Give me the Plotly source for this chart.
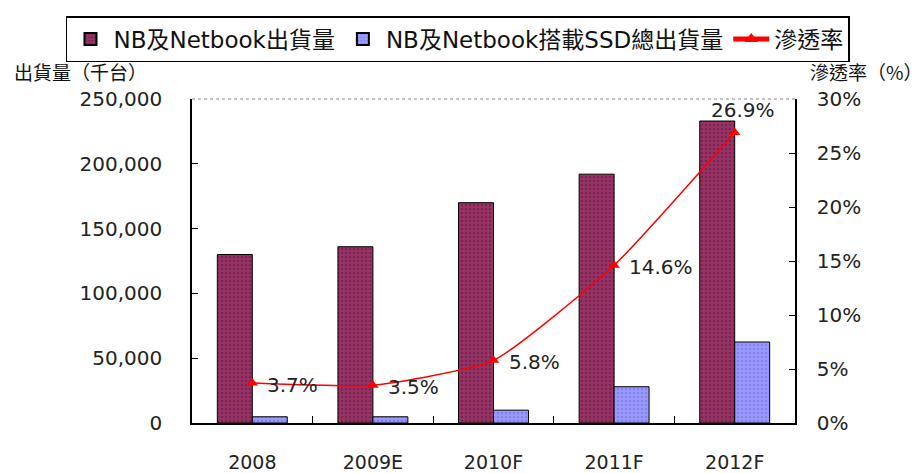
import plotly.graph_objects as go

# categories and values
years = ["2008", "2009E", "2010F", "2011F", "2012F"]
nb_shipments = [130000, 136000, 170000, 192000, 233000]       # 千台
ssd_shipments = [4800, 4800, 9900, 28000, 62500]             # 千台
penetration = [3.7, 3.5, 5.8, 14.6, 26.9]                    # %

FONT = "DejaVu Sans, Noto Sans CJK TC, sans-serif"
CJK = "Noto Sans CJK TC, DejaVu Sans, sans-serif"

fig = go.Figure()

fig.add_trace(go.Bar(
    x=years, y=nb_shipments,
    name="NB及Netbook出貨量",
    marker=dict(
        color="#993366",
        line=dict(color="black", width=1),
        pattern=dict(shape=".", bgcolor="#993366", fgcolor="#5a1a3c", size=4, solidity=0.35)
    ),
))

fig.add_trace(go.Bar(
    x=years, y=ssd_shipments,
    name="NB及Netbook搭載SSD總出貨量",
    marker=dict(
        color="#9999ff",
        line=dict(color="black", width=1),
        pattern=dict(shape=".", bgcolor="#9999ff", fgcolor="#6a6ad8", size=4, solidity=0.3)
    ),
))

fig.add_trace(go.Scatter(
    x=years, y=penetration,
    name="滲透率",
    yaxis="y2",
    mode="lines+markers",
    line=dict(color="#ff0000", width=1.5, shape="spline", smoothing=0.5),
    marker=dict(symbol="triangle-up", size=10, color="#ff0000"),
    cliponaxis=False,
))

# value labels for the penetration line (x given as category index)
for i, v in enumerate(penetration):
    last = i == len(penetration) - 1
    fig.add_annotation(
        x=i, y=v, xref="x", yref="y2",
        text=f"{v:.1f}%", showarrow=False,
        xanchor="center" if last else "left",
        yanchor="middle",
        xshift=8 if last else 13,
        yshift=22 if last else -2,
        font=dict(family=FONT, size=20, color="#222222"),
    )

# the page has an 8px body margin, so the figure is 8px smaller and margins shifted
fig.update_layout(
    width=913, height=465,
    template="plotly_white",
    paper_bgcolor="white",
    plot_bgcolor="white",
    barmode="group",
    bargap=0.42,
    bargroupgap=0,
    margin=dict(l=184, r=126, t=91, b=50, autoexpand=False),
    font=dict(family=FONT, size=20, color="#222222"),
    xaxis=dict(
        type="category",
        showline=True, linecolor="black", linewidth=1.5,
        ticks="inside", tickson="boundaries", ticklen=7, tickcolor="black",
        showgrid=False, zeroline=False,
        tickfont=dict(size=19),
        ticklabelstandoff=21,
    ),
    yaxis=dict(
        range=[0, 250000], dtick=50000, tickformat=",d",
        showline=True, linecolor="black", linewidth=1.5,
        ticks="inside", ticklen=6, tickcolor="black",
        showgrid=False, zeroline=False,
        ticklabelstandoff=24,
    ),
    yaxis2=dict(
        overlaying="y", side="right",
        range=[0, 30], dtick=5, ticksuffix="%",
        showline=True, linecolor="black", linewidth=1.5,
        ticks="inside", ticklen=6, tickcolor="black",
        showgrid=False, zeroline=False,
        ticklabelstandoff=16,
    ),
    legend=dict(
        orientation="h",
        x=-0.209, y=1.256, xanchor="left", yanchor="top",
        bordercolor="black", borderwidth=1.5,
        bgcolor="white",
        font=dict(family=FONT, size=23, color="#111111"),
        traceorder="normal",
        itemwidth=36,
        itemsizing="constant",
    ),
    showlegend=True,
)

# dotted top border of the plot area
fig.add_shape(type="line", xref="paper", yref="paper", x0=0, x1=1, y0=1, y1=1,
              line=dict(color="#888888", width=1, dash="dot"))

# axis titles
fig.add_annotation(text="出貨量（千台）", xref="paper", yref="paper",
                   x=-0.2985, y=1.086, xanchor="left", yanchor="middle",
                   showarrow=False, font=dict(family=CJK, size=19, color="#111111"))
fig.add_annotation(text="滲透率（%）", xref="paper", yref="paper",
                   x=1.0216, y=1.086, xanchor="left", yanchor="middle",
                   showarrow=False, font=dict(family=CJK, size=19, color="#111111"))

fig.write_html("out.html")
